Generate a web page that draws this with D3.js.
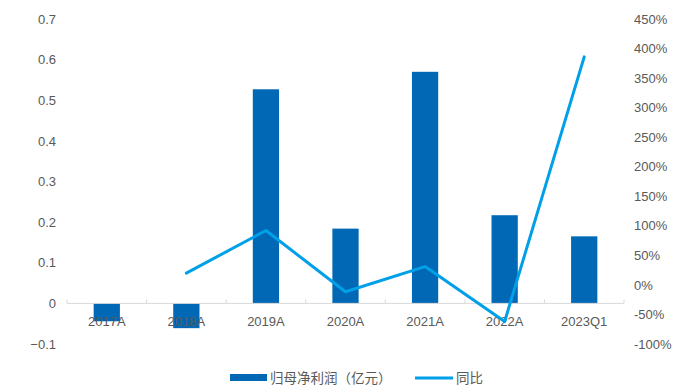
<!DOCTYPE html>
<html>
<head>
<meta charset="utf-8">
<script src="https://cdn.jsdelivr.net/npm/d3@7"></script>
<style>
  body { margin: 0; background: #fff; }
  text { font-family: "Liberation Sans", Arial, sans-serif; }
</style>
</head>
<body>
<div class="chart"></div>
<script>
// data
var categories = ["2017A", "2018A", "2019A", "2020A", "2021A", "2022A", "2023Q1"];
var profit = [-0.044, -0.061, 0.527, 0.184, 0.570, 0.217, 0.165];
var growth = [null, 0.20, 0.92, -0.115, 0.31, -0.62, 3.86];
var leftTicks = [-0.1, 0, 0.1, 0.2, 0.3, 0.4, 0.5, 0.6, 0.7];
var rightTicks = [-1, -0.5, 0, 0.5, 1, 1.5, 2, 2.5, 3, 3.5, 4, 4.5];

var svgWidth = 690;
var svgHeight = 387;

var svg = d3.select(".chart")
  .append("svg")
  .attr("width", svgWidth)
  .attr("height", svgHeight);

var plotTop = 19, plotBottom = 344;
var plotLeft = 67, plotRight = 624;

var xScale = d3.scaleBand()
  .domain(categories)
  .range([plotLeft, plotRight])
  .paddingInner(0.67)
  .paddingOuter(0.335);

var yLeft = d3.scaleLinear()
  .domain([-0.1, 0.7])
  .range([plotBottom, plotTop]);

var yRight = d3.scaleLinear()
  .domain([-1, 4.5])
  .range([plotBottom, plotTop]);

var labelColor = "#595959";

// left axis labels
var leftAxis = d3.axisLeft(yLeft).tickValues(leftTicks).tickSize(0).tickPadding(0)
  .tickFormat(d => d3.format("")(+d.toFixed(1)));
var gl = svg.append("g")
  .attr("transform", "translate(56,0)")
  .call(leftAxis);
gl.select(".domain").remove();
gl.selectAll("text").attr("fill", labelColor).attr("font-size", "13px");

// right axis labels
var rightAxis = d3.axisRight(yRight).tickValues(rightTicks).tickSize(0).tickPadding(0)
  .tickFormat(d => Math.round(d * 100) + "%");
var gr = svg.append("g")
  .attr("transform", "translate(634,0)")
  .call(rightAxis);
gr.select(".domain").remove();
gr.selectAll("text").attr("fill", labelColor).attr("font-size", "13px");

// bars
svg.selectAll("rect.bar")
  .data(profit)
  .enter()
  .append("rect")
  .attr("class", "bar")
  .attr("x", (d, i) => xScale(categories[i]))
  .attr("width", xScale.bandwidth())
  .attr("y", d => Math.min(yLeft(d), yLeft(0)))
  .attr("height", d => Math.abs(yLeft(d) - yLeft(0)))
  .attr("fill", "#0068B5");

// category axis at zero
var y0 = yLeft(0);
var step = xScale.step();
svg.append("line")
  .attr("x1", plotLeft).attr("x2", plotRight)
  .attr("y1", y0).attr("y2", y0)
  .attr("stroke", "#d9d9d9").attr("stroke-width", 1);

var boundaries = d3.range(categories.length + 1).map(i => plotLeft + i * step);
svg.selectAll("line.tick-mark")
  .data(boundaries)
  .enter()
  .append("line")
  .attr("x1", d => d).attr("x2", d => d)
  .attr("y1", y0 - 4).attr("y2", y0)
  .attr("stroke", "#d9d9d9");

svg.selectAll("text.cat")
  .data(categories)
  .enter()
  .append("text")
  .attr("x", d => xScale(d) + xScale.bandwidth() / 2)
  .attr("y", y0 + 23)
  .attr("text-anchor", "middle")
  .attr("font-size", "13px")
  .attr("fill", labelColor)
  .text(d => d);

// growth line
var lineData = categories.map((c, i) => ({ c: c, v: growth[i] })).filter(d => d.v !== null);
var line = d3.line()
  .x(d => xScale(d.c) + xScale.bandwidth() / 2)
  .y(d => yRight(d.v));

svg.append("path")
  .datum(lineData)
  .attr("d", line)
  .attr("fill", "none")
  .attr("stroke", "#00A0E9")
  .attr("stroke-width", 3)
  .attr("stroke-linejoin", "round")
  .attr("stroke-linecap", "round");

// legend
var legend = svg.append("g").attr("transform", "translate(0,378)");
legend.append("rect")
  .attr("x", 230).attr("y", -4)
  .attr("width", 37).attr("height", 7)
  .attr("fill", "#0068B5");
legend.append("text")
  .attr("x", 270).attr("y", 5)
  .attr("font-size", "13.5px")
  .attr("fill", labelColor)
  .style("font-family", "'Noto Sans CJK SC', sans-serif")
  .text("归母净利润（亿元）");
legend.append("line")
  .attr("x1", 415).attr("x2", 453)
  .attr("y1", 0).attr("y2", 0)
  .attr("stroke", "#00A0E9").attr("stroke-width", 3);
legend.append("text")
  .attr("x", 456).attr("y", 5)
  .attr("font-size", "13.5px")
  .attr("fill", labelColor)
  .style("font-family", "'Noto Sans CJK SC', sans-serif")
  .text("同比");
</script>
</body>
</html>
